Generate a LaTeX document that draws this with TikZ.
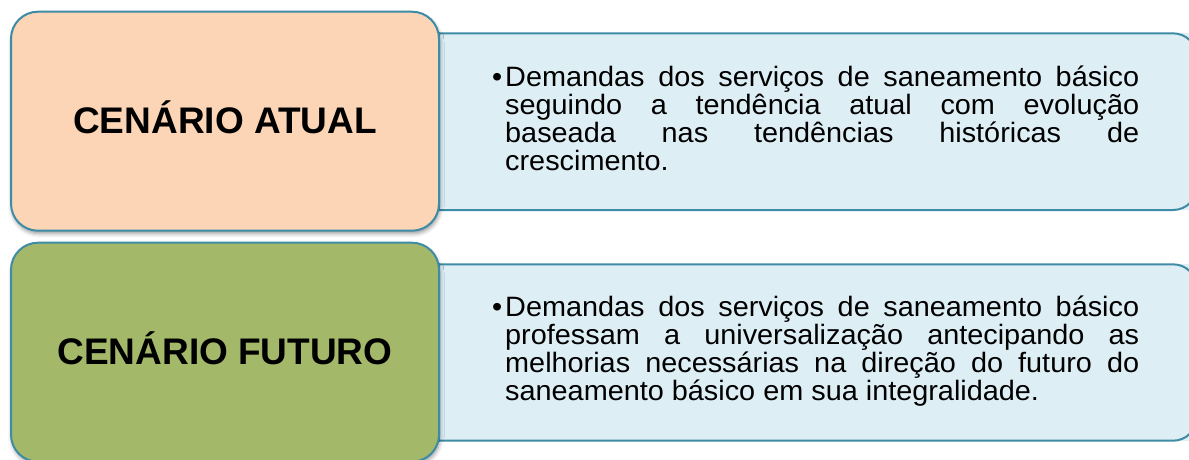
\documentclass[tikz,border=0pt]{standalone}
\usepackage{fontspec}
\setmainfont{Liberation Sans}
\newfontfamily\bodyfont[FakeStretch=1.03]{Liberation Sans}
\usetikzlibrary{shadows.blur}
\tolerance=10000
\hbadness=10000
\definecolor{edgec}{HTML}{3D8BA5}
\definecolor{orangefill}{HTML}{FBD5B5}
\definecolor{greenfill}{HTML}{A4B86A}
\definecolor{bluefill}{HTML}{DEEEF5}
\begin{document}
\begin{tikzpicture}[x=1pt,y=-1pt,
  edge/.style={draw=edgec, line width=2pt},
  scenario/.style={edge, rounded corners=27pt, minimum width=428pt, minimum height=219pt,
    inner sep=0pt, font=\bfseries\fontsize{37}{40}\selectfont, text height=24.5pt, text depth=0pt,
    blur shadow={shadow xshift=1pt, shadow yshift=-3pt, shadow blur radius=4pt, shadow opacity=40}},
  bodytext/.style={font=\bodyfont\fontsize{28}{28.2}\selectfont, text width=634pt, align=justify,
    inner sep=0pt, anchor=base west}
]
\useasboundingbox (0,0) rectangle (1189,459);
\clip (0,0) rectangle (1189,459);
% description panels
\fill[bluefill] (439,33.3) rectangle (1197,210);
\draw[edge, rounded corners=24pt] (439,33.3) -- (1197,33.3) -- (1197,210) -- (439,210);
\draw[edge, line cap=rect] (439,33.3) -- (439,210);
\fill[bluefill] (439,264.3) rectangle (1197,440.7);
\draw[edge, rounded corners=24pt] (439,264.3) -- (1197,264.3) -- (1197,440.7) -- (439,440.7);
\draw[edge, line cap=rect] (439,264.3) -- (439,440.7);
% scenario boxes
\node[scenario, fill=orangefill] (atual) at (225,121.2) {CENÁRIO ATUAL};
\node[scenario, fill=greenfill] (futuro) at (225,352.2) {CENÁRIO FUTURO};
% texts
\node[bodytext] (ta) at (505,86) {\llap{•\hspace{3pt}}Demandas dos serviços de saneamento básico\linebreak
seguindo a tendência atual com evolução\linebreak
baseada nas tendências históricas de\linebreak
crescimento.};
\node[bodytext] (tf) at (505,316) {\llap{•\hspace{3pt}}Demandas dos serviços de saneamento básico\linebreak
professam a universalização antecipando as\linebreak
melhorias necessárias na direção do futuro do\linebreak
saneamento básico em sua integralidade.};
\end{tikzpicture}
\end{document}
